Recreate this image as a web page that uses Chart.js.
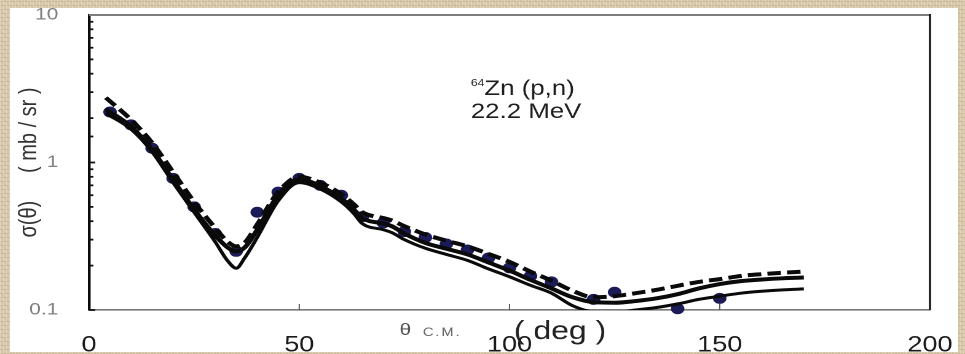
<!DOCTYPE html>
<html>
<head>
<meta charset="utf-8">
<script src="https://cdn.jsdelivr.net/npm/chart.js@4/dist/chart.umd.min.js"></script>
<style>
  html, body { margin: 0; padding: 0; }
  body {
    width: 965px; height: 354px; overflow: hidden; position: relative;
    background-color: #d6c6a7;
    background-image:
      repeating-linear-gradient(90deg, rgba(255,255,255,0.18) 0 1px, transparent 1px 3px),
      repeating-linear-gradient(0deg, rgba(110,85,50,0.14) 0 1px, transparent 1px 4px),
      repeating-linear-gradient(45deg, rgba(255,250,235,0.12) 0 2px, transparent 2px 5px);
  }
  #panel {
    position: absolute; left: 10px; top: 8px; width: 948px; height: 344px;
    background: #fff; overflow: hidden;
  }
  #stage {
    position: absolute; left: -10px; top: -8px; width: 785px; height: 354px;
    transform: scaleX(1.2293); transform-origin: 0 0;
  }
</style>
</head>
<body>
<div id="panel"><div id="stage"><canvas id="c" width="785" height="354"></canvas></div></div>
<script>
// Centre-of-mass angles (deg) at which the model curves are tabulated
const curveAngles = [4, 10, 15, 20, 25, 30, 33, 35, 37, 40, 45, 50, 55, 60, 63, 65, 70, 72, 75, 80,
                     85, 90, 95, 100, 105, 110, 115, 120, 125, 130, 135, 140, 145, 150, 155, 160, 165, 170];
// Calculated cross sections, mb/sr
const dashedCurve = [2.75, 1.95, 1.36, 0.86, 0.54, 0.36, 0.29, 0.27, 0.285, 0.38, 0.63, 0.8, 0.73, 0.61, 0.52, 0.46, 0.42, 0.405, 0.37, 0.325,
                     0.295, 0.27, 0.24, 0.212, 0.182, 0.158, 0.135, 0.122, 0.124, 0.13, 0.137, 0.146, 0.155, 0.162, 0.17, 0.175, 0.179, 0.182];
const solidCurve  = [2.3, 1.75, 1.22, 0.76, 0.48, 0.32, 0.265, 0.25, 0.265, 0.35, 0.6, 0.77, 0.69, 0.57, 0.48, 0.42, 0.385, 0.37, 0.33, 0.285,
                     0.26, 0.238, 0.21, 0.185, 0.16, 0.14, 0.122, 0.113, 0.112, 0.115, 0.12, 0.128, 0.14, 0.15, 0.157, 0.161, 0.164, 0.166];
const lowerCurve  = [2.15, 1.68, 1.18, 0.73, 0.46, 0.29, 0.215, 0.192, 0.225, 0.31, 0.55, 0.73, 0.66, 0.54, 0.45, 0.385, 0.35, 0.335, 0.3, 0.262,
                     0.238, 0.217, 0.19, 0.168, 0.147, 0.13, 0.107, 0.097, 0.096, 0.1, 0.104, 0.11, 0.118, 0.124, 0.13, 0.134, 0.137, 0.139];
// Measured angular distribution
const dataAngles = [5, 10, 15, 20, 25, 30, 35, 40, 45, 50, 55, 60, 65, 70, 75, 80, 85, 90, 95, 100, 105, 110, 120, 125, 140, 150];
const dataValues = [2.2, 1.8, 1.25, 0.78, 0.5, 0.33, 0.25, 0.46, 0.63, 0.78, 0.7, 0.6, 0.43, 0.39, 0.34, 0.31, 0.28, 0.255, 0.225, 0.193,
                    0.17, 0.155, 0.118, 0.132, 0.102, 0.12];
// Axis ticks
const xTickValues = [0, 50, 100, 150, 200];
const yDecades = [0.1, 1, 10];

const pairs = (xs, ys) => xs.map((x, i) => ({ x, y: ys[i] }));
const FONT = '"Liberation Sans", Arial, sans-serif';

// Frame lines and the inward tick marks of the plot box
const frameDecor = {
  id: 'frameDecor',
  afterDraw(chart) {
    const { ctx, chartArea: a, scales: { x, y } } = chart;
    ctx.save();
    ctx.strokeStyle = '#111';
    ctx.lineWidth = 1.8;
    y.ticks.forEach(t => {
      const py = y.getPixelForValue(t.value);
      const len = yDecades.includes(t.value) ? 5 : 3.5;
      ctx.beginPath(); ctx.moveTo(a.left, py); ctx.lineTo(a.left + len, py); ctx.stroke();
    });
    ctx.strokeStyle = '#555';
    ctx.lineWidth = 1;
    xTickValues.slice(1, -1).forEach(v => {
      const px = x.getPixelForValue(v);
      ctx.beginPath(); ctx.moveTo(px, a.bottom); ctx.lineTo(px, a.bottom - 6); ctx.stroke();
    });
    // top edge
    ctx.strokeStyle = '#7d7d7d';
    ctx.lineWidth = 2;
    ctx.beginPath(); ctx.moveTo(a.left, a.top); ctx.lineTo(a.right, a.top); ctx.stroke();
    // right edge
    ctx.strokeStyle = '#111';
    ctx.lineWidth = 1.7;
    ctx.beginPath(); ctx.moveTo(a.right, a.top - 1); ctx.lineTo(a.right, a.bottom); ctx.stroke();
    ctx.restore();
  }
};

// Reaction label inside the plot and the composite x-axis title
const textDecor = {
  id: 'textDecor',
  afterDraw(chart) {
    const { ctx } = chart;
    ctx.save();
    ctx.textBaseline = 'alphabetic';
    ctx.textAlign = 'left';
    ctx.fillStyle = '#1e1e1e';
    ctx.font = '10px ' + FONT;
    ctx.fillText('64', 383, 86);
    ctx.font = '21px ' + FONT;
    ctx.fillText('Zn (p,n)', 394, 95);
    ctx.fillText('22.2 MeV', 383, 118);

    ctx.fillStyle = '#555';
    ctx.font = '17px ' + FONT;
    ctx.fillText('\u03b8', 325, 335);
    ctx.fillStyle = '#666';
    ctx.font = '12px ' + FONT;
    ctx.letterSpacing = '1.5px';
    ctx.fillText('C.M.', 344, 336);
    ctx.letterSpacing = '0px';
    ctx.fillStyle = '#222';
    ctx.font = '26px ' + FONT;
    ctx.fillText('( deg )', 418, 339);
    ctx.restore();
  }
};

new Chart(document.getElementById('c'), {
  type: 'line',
  data: {
    datasets: [
      {
        label: 'data',
        data: pairs(dataAngles, dataValues),
        showLine: false,
        pointRadius: 5,
        pointBackgroundColor: '#1b1b58',
        pointBorderColor: '#1b1b58',
        pointBorderWidth: 1,
        clip: false,
        order: 1
      },
      {
        label: 'calc dashed',
        data: pairs(curveAngles, dashedCurve),
        borderColor: '#0a0a0a',
        borderWidth: 4,
        borderDash: [11, 5],
        pointRadius: 0,
        cubicInterpolationMode: 'monotone',
        order: 0
      },
      {
        label: 'calc solid',
        data: pairs(curveAngles, solidCurve),
        borderColor: '#0a0a0a',
        borderWidth: 4,
        pointRadius: 0,
        cubicInterpolationMode: 'monotone',
        order: 0
      },
      {
        label: 'calc lower',
        data: pairs(curveAngles, lowerCurve),
        borderColor: '#0a0a0a',
        borderWidth: 3,
        pointRadius: 0,
        cubicInterpolationMode: 'monotone',
        order: 0
      }
    ]
  },
  options: {
    responsive: false,
    animation: false,
    devicePixelRatio: 2,
    layout: { padding: { left: 8, top: 15, right: 28.5, bottom: 0 } },
    plugins: { legend: { display: false }, tooltip: { enabled: false } },
    scales: {
      x: {
        type: 'linear',
        min: 0, max: 200,
        afterFit(scale) {
          scale.height = 44;
          scale.paddingLeft = 0; scale.paddingRight = 0;
          scale.paddingTop = 0; scale.paddingBottom = 0;
        },
        afterBuildTicks(scale) { scale.ticks = xTickValues.map(v => ({ value: v })); },
        ticks: { font: { family: FONT, size: 22 }, color: '#1a1a1a', padding: 22, maxRotation: 0 },
        grid: { drawOnChartArea: false, drawTicks: false },
        border: { color: '#7a7a7a', width: 1.6 }
      },
      y: {
        type: 'logarithmic',
        min: 0.1, max: 10,
        afterFit(scale) {
          scale.width = 64.4;
          scale.paddingTop = 0; scale.paddingBottom = 0;
          scale.paddingLeft = 0; scale.paddingRight = 0;
        },
        ticks: {
          autoSkip: false,
          font: { family: FONT, size: 17 },
          color: '#808080',
          padding: 25,
          callback: v => (yDecades.includes(v) ? String(v) : '')
        },
        grid: { drawOnChartArea: false, drawTicks: false },
        border: { color: '#0a0a0a', width: 2.2 },
        title: {
          display: true,
          text: '\u03c3(\u03b8)     ( mb / sr )',
          font: { family: FONT, size: 20 },
          color: '#333',
          padding: { top: 4, bottom: 0 }
        }
      }
    }
  },
  plugins: [frameDecor, textDecor]
});
</script>
</body>
</html>
